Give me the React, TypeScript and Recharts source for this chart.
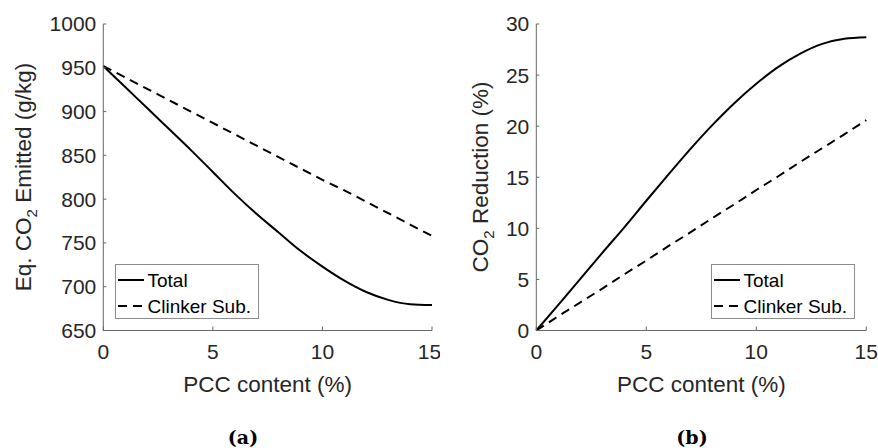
import { LineChart, Line, XAxis, YAxis, Label, Legend } from 'recharts';

const FONT = '"Liberation Sans", Arial, Helvetica, sans-serif';
const INK = '#262626';

// PCC content (%) on the x axis
const pcc = [0, 1, 2, 3, 4, 5, 6, 7, 8, 9, 10, 11, 12, 13, 14, 15];

// (a) Eq. CO2 emitted (g/kg)
const totalEmitted = [952, 928, 904, 880, 856, 831, 806, 783, 762, 741, 723, 707, 694, 685, 680, 679];
const clinkerEmitted = [952, 939, 926, 913, 900, 887, 874, 861, 848, 835, 822, 810, 797, 784, 771, 758];

// (b) CO2 reduction (%)
const totalReduction = [0, 2.5, 5.05, 7.6, 10.1, 12.7, 15.25, 17.75, 20.1, 22.25, 24.15, 25.8, 27.1, 28.05, 28.55, 28.7];
const clinkerReduction = [0, 1.4, 2.75, 4.1, 5.5, 6.85, 8.25, 9.6, 11.0, 12.35, 13.75, 15.1, 16.5, 17.85, 19.2, 20.6];

const xTicks = [0, 5, 10, 15];
const emittedTicks = [650, 700, 750, 800, 850, 900, 950, 1000];
const reductionTicks = [0, 5, 10, 15, 20, 25, 30];

const seriesNames = ['Total', 'Clinker Sub.'];
const DASH = '9 6';

const emittedData = pcc.map((x, i) => ({ pcc: x, total: totalEmitted[i], clinker: clinkerEmitted[i] }));
const reductionData = pcc.map((x, i) => ({ pcc: x, total: totalReduction[i], clinker: clinkerReduction[i] }));

function LegendBox() {
  return (
    <svg width={144} height={55} style={{ display: 'block' }}>
      <rect x={0.5} y={0.5} width={143} height={54} fill="#fff" stroke="#8c8c8c" strokeWidth={1} />
      <line x1={3} x2={29} y1={16} y2={16} stroke="#000" strokeWidth={2} />
      <text x={32.5} y={23} fontSize={19} fill="#000" fontFamily={FONT}>
        {seriesNames[0]}
      </text>
      <line x1={3} x2={29} y1={42} y2={42} stroke="#000" strokeWidth={2} strokeDasharray={DASH} />
      <text x={32.5} y={49} fontSize={19} fill="#000" fontFamily={FONT}>
        {seriesNames[1]}
      </text>
    </svg>
  );
}

interface PanelProps {
  data: { pcc: number; total: number; clinker: number }[];
  width: number;
  marginRight: number;
  yWidth: number;
  yDomain: [number, number];
  yTicks: number[];
  yLabelX: number;
  yLabel: [string, string];
  xLabelX: number;
  caption: string;
  captionX: number;
  legendLeft: number;
}

function Panel(p: PanelProps) {
  return (
    <LineChart
      width={p.width}
      height={448}
      data={p.data}
      margin={{ top: 24, right: p.marginRight, bottom: 0, left: 0 }}
    >
      <XAxis
        dataKey="pcc"
        type="number"
        domain={[0, 15]}
        ticks={xTicks}
        height={117.5}
        stroke="#666"
        tickSize={-4}
        tickMargin={18}
        tick={{ fontSize: 21, fill: INK, fontFamily: FONT }}
      >
        <Label
          content={() => (
            <g>
              <text x={p.xLabelX} y={392} textAnchor="middle" fontSize={22.5} fill={INK} fontFamily={FONT}>
                PCC content (%)
              </text>
              <text
                x={p.captionX}
                y={444}
                textAnchor="middle"
                fontSize={19}
                fontWeight="bold"
                fill="#000"
                fontFamily='"DejaVu Serif", serif'
              >
                {p.caption}
              </text>
            </g>
          )}
        />
      </XAxis>
      <YAxis
        type="number"
        domain={p.yDomain}
        ticks={p.yTicks}
        width={p.yWidth}
        stroke="#666"
        tickSize={-3}
        tickMargin={10}
        tick={{ fontSize: 21, fill: INK, fontFamily: FONT }}
      >
        <Label
          content={() => (
            <text
              transform={`translate(${p.yLabelX}, 177) rotate(-90)`}
              textAnchor="middle"
              fontSize={22.5}
              fill={INK}
              fontFamily={FONT}
            >
              {p.yLabel[0]}
              <tspan fontSize={15} dy={6}>2</tspan>
              <tspan dy={-6}>{p.yLabel[1]}</tspan>
            </text>
          )}
        />
      </YAxis>
      <Legend
        layout="vertical"
        align="center"
        verticalAlign="middle"
        wrapperStyle={{ left: p.legendLeft, top: 264, width: 144, height: 55 }}
        content={() => <LegendBox />}
      />
      <Line
        type="monotone"
        dataKey="total"
        name={seriesNames[0]}
        stroke="#000"
        strokeWidth={2}
        dot={false}
        isAnimationActive={false}
      />
      <Line
        type="linear"
        dataKey="clinker"
        name={seriesNames[1]}
        stroke="#000"
        strokeWidth={2}
        strokeDasharray={DASH}
        dot={false}
        isAnimationActive={false}
      />
    </LineChart>
  );
}

export default function App() {
  return (
    <div style={{ position: 'absolute', left: 0, top: 0, width: 878, height: 448, background: '#fff' }}>
      <div style={{ position: 'absolute', left: 0, top: 0 }}>
        <Panel
          data={emittedData}
          width={440}
          marginRight={8}
          yWidth={103.3}
          yDomain={[650, 1000]}
          yTicks={emittedTicks}
          yLabelX={31}
          yLabel={['Eq. CO', ' Emitted (g/kg)']}
          xLabelX={267.7}
          caption="(a)"
          captionX={243}
          legendLeft={115}
        />
      </div>
      <div style={{ position: 'absolute', left: 440, top: 0 }}>
        <Panel
          data={reductionData}
          width={438}
          marginRight={11.7}
          yWidth={96.3}
          yDomain={[0, 30]}
          yTicks={reductionTicks}
          yLabelX={48}
          yLabel={['CO', ' Reduction (%)']}
          xLabelX={261.3}
          caption="(b)"
          captionX={252}
          legendLeft={270.7}
        />
      </div>
    </div>
  );
}
